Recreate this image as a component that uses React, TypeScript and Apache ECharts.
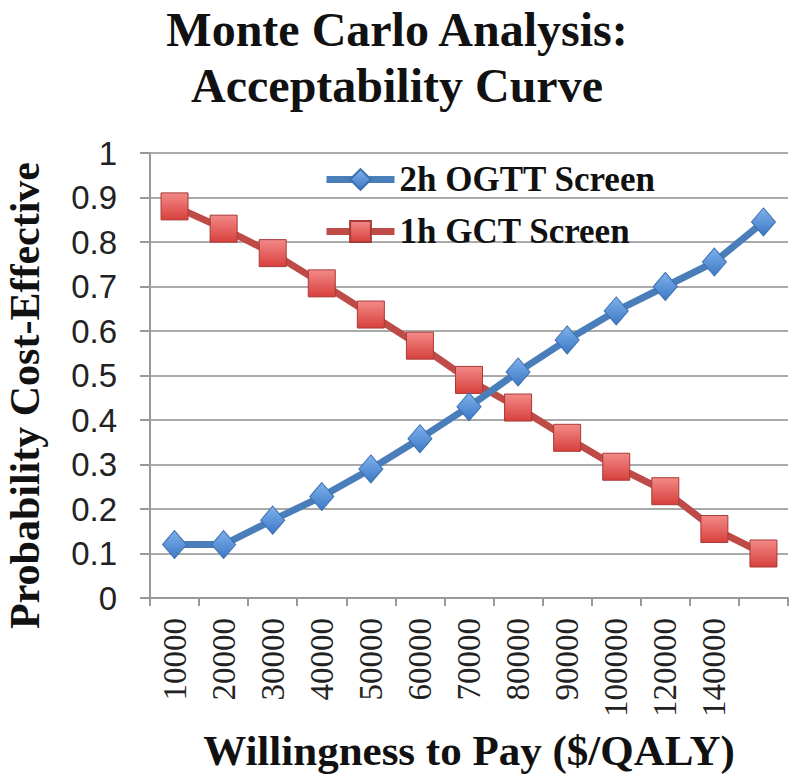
import React, { useEffect, useRef } from "react";
import * as echarts from "echarts";

const categories = ["10000", "20000", "30000", "40000", "50000", "60000", "70000", "80000", "90000", "100000", "120000", "140000", ""];
const ogttValues = [0.12, 0.12, 0.175, 0.228, 0.29, 0.358, 0.43, 0.508, 0.58, 0.645, 0.7, 0.755, 0.845];
const gctValues = [0.88, 0.83, 0.775, 0.707, 0.637, 0.567, 0.49, 0.428, 0.36, 0.295, 0.24, 0.155, 0.1];
const seriesNames = ["2h OGTT Screen", "1h GCT Screen"];
const titleLines = ["Monte Carlo Analysis:", "Acceptability Curve"];

const serif = "'Liberation Serif', 'DejaVu Serif', serif";
const sans = "'Liberation Sans', Arial, sans-serif";

export default function App() {
  const ref = useRef<HTMLDivElement>(null);
  useEffect(() => {
    document.body.style.margin = "0";
    const chart = echarts.init(ref.current!, null, { renderer: "svg" });
    chart.setOption({
      animation: false,
      backgroundColor: "#ffffff",
      title: {
        text: titleLines.join("\n"),
        left: 397,
        textAlign: "center",
        top: 1,
        padding: 0,
        textStyle: { fontFamily: serif, fontWeight: "bold", fontSize: 48, lineHeight: 56, color: "#111" },
      },
      legend: {
        left: 323,
        top: 162,
        padding: 0,
        orient: "vertical",
        itemWidth: 68,
        itemHeight: 26,
        itemGap: 17,
        lineStyle: { width: 7 },
        textStyle: { fontFamily: serif, fontWeight: "bold", fontSize: 35, lineHeight: 30, color: "#111" },
        data: seriesNames,
      },
      grid: { left: 150, right: 12, top: 153, bottom: 186, outerBoundsMode: "none" },
      xAxis: {
        type: "category",
        data: categories,
        boundaryGap: true,
        name: "Willingness to Pay ($/QALY)",
        nameLocation: "middle",
        nameGap: 131,
        nameTextStyle: { fontFamily: serif, fontWeight: "bold", fontSize: 43, color: "#111" },
        axisLine: { lineStyle: { color: "#999", width: 2 } },
        axisTick: { show: true, alignWithLabel: false, length: 8, lineStyle: { color: "#999", width: 2 } },
        axisLabel: { rotate: 90, interval: 0, fontFamily: serif, fontSize: 33, color: "#222", margin: 20 },
        splitLine: { show: false },
      },
      yAxis: {
        type: "value",
        min: 0,
        max: 1,
        interval: 0.1,
        name: "Probability Cost-Effective",
        nameLocation: "middle",
        nameGap: 104,
        nameTextStyle: { fontFamily: serif, fontWeight: "bold", fontSize: 42, color: "#111", padding: [0, 40, 0, 0] },
        axisLine: { show: true, lineStyle: { color: "#999", width: 2 } },
        axisTick: { show: true, length: 10, lineStyle: { color: "#999", width: 2 } },
        axisLabel: {
          fontFamily: sans,
          fontSize: 33,
          color: "#222",
          margin: 33,
          formatter: (v: number) => String(Math.round(v * 10) / 10),
        },
        splitLine: { lineStyle: { color: "#aaa", width: 2 } },
      },
      series: [
        {
          name: seriesNames[0],
          type: "line",
          data: ogttValues,
          symbol: "diamond",
          symbolSize: [24, 28],
          lineStyle: { color: "#4A7EBB", width: 7 },
          itemStyle: {
            color: new echarts.graphic.LinearGradient(0, 0, 0, 1, [
              { offset: 0, color: "#7FB2EC" },
              { offset: 1, color: "#3D78C6" },
            ]),
            borderColor: "#3C6FAF",
            borderWidth: 1,
          },
          z: 3,
        },
        {
          name: seriesNames[1],
          type: "line",
          data: gctValues,
          symbol: "rect",
          symbolSize: 27,
          lineStyle: { color: "#BE4B48", width: 7 },
          itemStyle: {
            color: new echarts.graphic.LinearGradient(0, 0, 0, 1, [
              { offset: 0, color: "#F28A88" },
              { offset: 1, color: "#D8403C" },
            ]),
            borderColor: "#A93A37",
            borderWidth: 1,
          },
          z: 2,
        },
      ],
    });
    return () => chart.dispose();
  }, []);
  return <div ref={ref} style={{ width: 800, height: 784 }} />;
}
